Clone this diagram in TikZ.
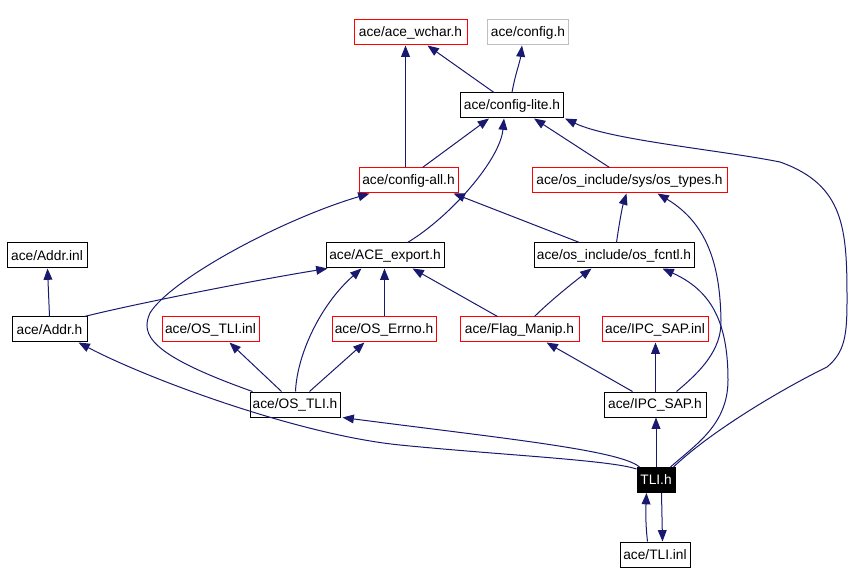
\documentclass[tikz,border=0pt]{standalone}
\usepackage{fontspec}
\setmainfont{Liberation Sans}
\usetikzlibrary{arrows.meta,calc}
\definecolor{edgeblue}{RGB}{25,25,112}
\definecolor{boxred}{RGB}{255,0,0}
\definecolor{boxgray}{RGB}{191,191,191}
\begin{document}
\begin{tikzpicture}[x=0.75pt,y=-0.75pt,
  hbox/.style={draw=black,line width=0.75pt,rectangle,inner sep=0pt,minimum height=25*0.75pt,font=\fontsize{10.3}{12}\selectfont,anchor=center},
  bw/.style={minimum width=#1*0.75pt},
  redbox/.style={hbox,draw=boxred},
  graybox/.style={hbox,draw=boxgray},
  blackbox/.style={hbox,fill=black,text=white},
  edge/.style={draw=edgeblue,line width=0.75pt,-{Triangle[length=8.5pt,width=6.6pt]}}
]
\useasboundingbox (0,0) rectangle (867,584);
% nodes
\node[redbox,bw=113] (wchar) at (410.5,32.5) {ace/ace\_wchar.h};
\node[graybox,bw=81] (config) at (528,32.5) {ace/config.h};
\node[hbox,bw=103] (lite) at (512,105.5) {ace/config-lite.h};
\node[redbox,bw=99] (all) at (408.5,180.5) {ace/config-all.h};
\node[redbox,bw=195] (types) at (629.5,180.5) {ace/os\_include/sys/os\_types.h};
\node[hbox,bw=80] (addrinl) at (47,255.5) {ace/Addr.inl};
\node[hbox,bw=118] (export) at (385,255.5) {ace/ACE\_export.h};
\node[hbox,bw=160] (fcntl) at (614,255.5) {ace/os\_include/os\_fcntl.h};
\node[hbox,bw=75] (addrh) at (49.5,329.5) {ace/Addr.h};
\node[redbox,bw=97] (ostliinl) at (210.5,329.5) {ace/OS\_TLI.inl};
\node[redbox,bw=104] (errno) at (384,329.5) {ace/OS\_Errno.h};
\node[redbox,bw=119] (flag) at (519.5,329.5) {ace/Flag\_Manip.h};
\node[redbox,bw=106] (ipcinl) at (655,329.5) {ace/IPC\_SAP.inl};
\node[hbox,bw=90] (ostlih) at (295,404.5) {ace/OS\_TLI.h};
\node[hbox,bw=102] (ipch) at (655,404.5) {ace/IPC\_SAP.h};
\node[blackbox,bw=38] (tlih) at (656,480) {TLI.h};
\node[hbox,bw=70] (tliinl) at (655,554.5) {ace/TLI.inl};
% edges
\draw[edge] ($(all.north west)+(47,0)$) -- ($(wchar.south west)+(52,0)$);
\draw[edge] ($(lite.north west)+(34,0)$) -- ($(wchar.south west)+(74,0)$);
\draw[edge] ($(lite.north west)+(52,0)$) .. controls (515,75) and (520,62) .. ($(config.south west)+(35,0)$);
\draw[edge] ($(all.north west)+(64,0)$) -- ($(lite.south west)+(29,0)$);
\draw[edge] ($(export.north west)+(82,0)$) .. controls (450,217) and (500,160) .. ($(lite.south west)+(44,0)$);
\draw[edge] ($(types.north west)+(78,0)$) -- ($(lite.south west)+(74,0)$);
\draw[edge] ($(tlih.north east)+(-2,0)$) .. controls (710,432) and (780,390) .. (827,367)
  .. controls (845,352) and (847,335) .. (847,300)
  .. controls (847,230) and (845,185) .. (780,162)
  .. controls (720,150) and (610,140) .. ($(lite.south east)+(1,0)$);
\draw[edge] ($(fcntl.north west)+(46,0)$) -- ($(all.south east)+(-5,0)$);
\draw[edge] ($(fcntl.north west)+(83,0)$) .. controls (619,225) and (622,208) .. ($(types.south west)+(95,0)$);
\draw[edge] ($(addrh.north west)+(38,0)$) -- ($(addrinl.south west)+(41,0)$);
\draw[edge] ($(addrh.north west)+(73,0)$) .. controls (130,305) and (250,281) .. ($(export.south west)+(2,0)$);
\draw[edge] ($(ostlih.north west)+(3,0)$) .. controls (150,355) and (140,335) .. (150,313)
  .. controls (170,280) and (280,220) .. ($(all.south west)+(11,0)$);
\draw[edge] ($(ostlih.north west)+(46,0)$) .. controls (297,355) and (320,305) .. ($(export.south west)+(36,0)$);
\draw[edge] ($(ostlih.north west)+(32,0)$) -- ($(ostliinl.south west)+(68,0)$);
\draw[edge] ($(ostlih.north west)+(60,0)$) -- ($(errno.south west)+(33,0)$);
\draw[edge] ($(errno.north west)+(53,0)$) -- ($(export.south west)+(59,0)$);
\draw[edge] ($(flag.north west)+(38,0)$) -- ($(export.south west)+(87,0)$);
\draw[edge] ($(flag.north west)+(75,0)$) .. controls (548,303) and (570,285) .. ($(fcntl.south west)+(58,0)$);
\draw[edge] ($(ipch.north west)+(29,0)$) -- ($(flag.south west)+(87,0)$);
\draw[edge] ($(ipch.north west)+(52,0)$) -- ($(ipcinl.south west)+(54,0)$);
\draw[edge] ($(ipch.north west)+(73,0)$) .. controls (700,372) and (722,350) .. (721,320)
  .. controls (720,270) and (710,225) .. ($(types.south west)+(126,0)$);
\draw[edge] (tlih.north) -- (tlih.north |- ipch.south);
\draw[edge] ($(tlih.north east)+(-5,0)$) .. controls (695,445) and (728,425) .. (728,380)
  .. controls (728,320) and (710,290) .. ($(fcntl.south west)+(129,0)$);
\draw[edge] ($(tlih.north west)+(3,0)$) .. controls (620,450) and (500,438) .. ($(ostlih.south east)+(2,0)$);
\draw[edge] ($(tlih.north west)+(0,2)$) .. controls (610,460) and (500,455) .. (400,445)
  .. controls (300,435) and (150,380) .. ($(addrh.south east)+(-9,0)$);
\draw[edge] ($(tlih.south west)+(25,0)$) -- ($(tliinl.north west)+(43,0)$);
\draw[edge] ($(tliinl.north west)+(28,0)$) .. controls (645,520) and (646,505) .. ($(tlih.south west)+(10,0)$);
\end{tikzpicture}
\end{document}
